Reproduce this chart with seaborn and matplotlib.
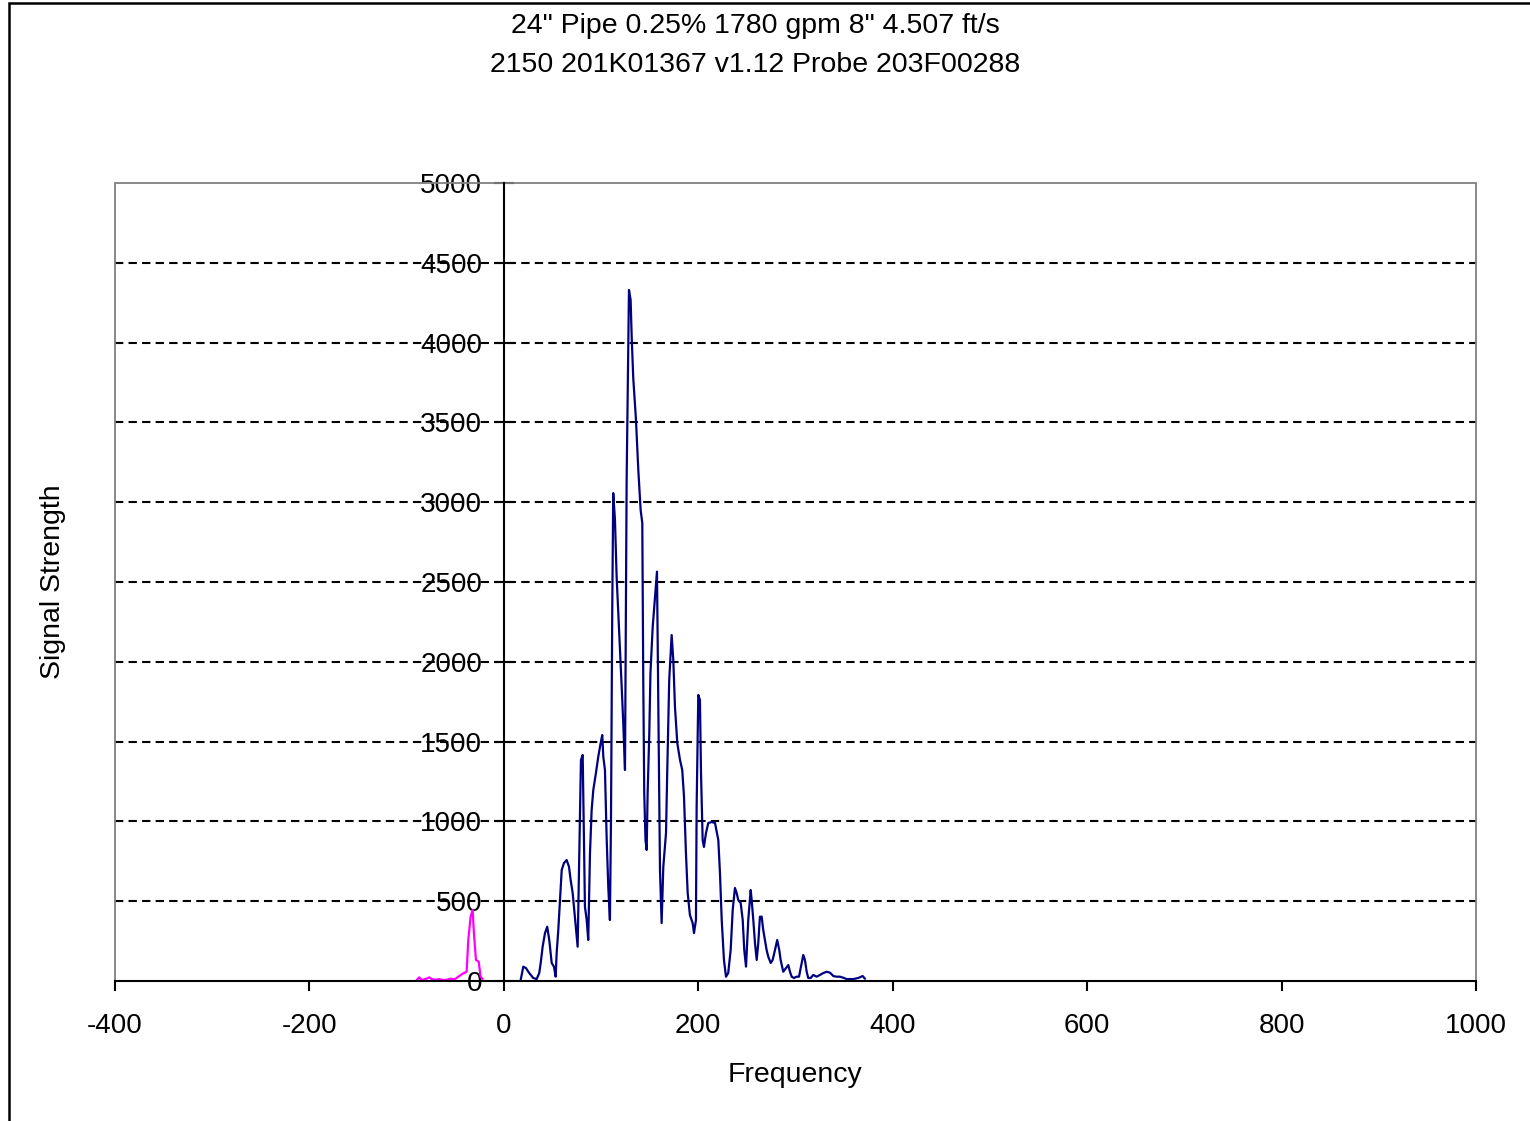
import numpy as np
import pandas as pd
import matplotlib
matplotlib.use("Agg")
import matplotlib.pyplot as plt
from matplotlib.patches import Rectangle
import seaborn as sns

# ---- data -------------------------------------------------------------
title_lines = ['24" Pipe 0.25% 1780 gpm 8" 4.507 ft/s',
               '2150 201K01367 v1.12 Probe 203F00288']
x_label = "Frequency"
y_label = "Signal Strength"

x_ticks = [-400, -200, 0, 200, 400, 600, 800, 1000]
y_ticks = [0, 500, 1000, 1500, 2000, 2500, 3000, 3500, 4000, 4500, 5000]

# forward (positive frequency) spectrum
fwd_freq = [17.3, 20.0, 22.7, 26.1, 30.2, 33.7, 36.4, 37.9, 39.9, 42.3, 44.6,
            46.7, 49.2, 51.5, 53.3, 54.3, 56.0, 57.7, 59.5, 61.8, 64.6, 67.0,
            68.7, 70.8, 72.4, 74.2, 75.9, 77.6, 79.3, 81.1, 82.1, 83.4, 85.2,
            86.8, 88.6, 90.3, 92.0, 94.7, 97.1, 99.6, 101.2, 102.3, 104.0,
            105.7, 107.4, 109.1, 110.2, 111.5, 112.5, 114.3, 116.0, 118.7,
            121.2, 122.8, 124.6, 126.3, 128.7, 130.4, 131.5, 133.1, 135.9,
            138.3, 140.7, 142.4, 143.4, 144.4, 145.7, 146.9, 147.9, 149.6,
            150.8, 153.1, 155.4, 157.5, 158.8, 160.6, 162.3, 164.0, 166.8,
            168.1, 170.1, 172.6, 174.3, 176.0, 178.4, 181.2, 183.5, 185.3,
            187.3, 189.1, 191.4, 194.2, 195.6, 197.6, 198.3, 200.0, 201.7,
            202.8, 204.5, 205.8, 207.9, 210.3, 213.8, 217.2, 220.6, 222.3,
            224.1, 226.4, 228.5, 230.8, 233.3, 235.4, 237.7, 239.5, 241.1,
            243.6, 245.7, 247.3, 249.1, 251.4, 253.9, 254.9, 256.6, 258.3,
            260.1, 261.7, 263.4, 265.2, 266.8, 268.6, 270.3, 272.0, 274.5,
            276.5, 278.9, 281.2, 283.3, 284.7, 287.4, 290.2, 292.6, 294.3,
            296.1, 298.4, 301.2, 303.6, 305.6, 308.0, 309.7, 311.5, 313.1,
            315.6, 318.3, 321.8, 325.2, 328.6, 332.1, 335.5, 338.9, 342.4,
            345.7, 349.9, 352.6, 359.4, 364.6, 369.1, 371.5]
fwd_signal = [6, 90, 81, 50, 19, 12, 50, 113, 215, 300, 340,
              257, 113, 90, 27, 175, 320, 508, 695, 739, 758, 716,
              633, 551, 445, 320, 215, 802, 1385, 1416, 1009, 466, 382,
              257, 802, 1071, 1197, 1303, 1405, 1491, 1541, 1405, 1322,
              904, 591, 382, 1009, 2325, 3057, 2888, 2533, 2180,
              1844, 1620, 1322, 3139, 4330, 4267, 4035, 3778, 3515,
              3202, 2951, 2870, 1886, 1178, 883, 821, 1178, 1553,
              1930, 2218, 2400, 2565, 1761, 695, 363, 714, 927,
              1322, 1886, 2168, 2011, 1719, 1491, 1385, 1322, 1155,
              802, 551, 413, 363, 300, 382, 1092, 1792, 1761,
              1303, 883, 840, 927, 990, 996, 990, 883, 677,
              382, 132, 27, 50, 194, 445, 583, 551, 508,
              489, 382, 194, 90, 382, 570, 508, 382, 238,
              132, 238, 403, 403, 320, 257, 194, 152, 113,
              132, 194, 257, 194, 132, 58, 81, 100, 58,
              27, 19, 27, 27, 90, 163, 132, 58, 19,
              19, 38, 27, 38, 50, 58, 52, 31, 27,
              27, 19, 12, 12, 19, 31, 14]

# reverse (negative frequency) spectrum
rev_freq = [-89.7, -87.0, -84.6, -82.2, -79.1, -76.7, -74.3, -70.9, -66.5,
            -62.3, -58.5, -55.4, -50.3, -45.9, -41.8, -38.3, -36.6, -34.2,
            -32.1, -30.8, -28.7, -25.9, -23.9, -21.8]
rev_signal = [6, 23, 6, 10, 15, 23, 12, 8, 12,
              6, 8, 14, 12, 31, 48, 58, 257, 403,
              445, 299, 132, 121, 27, 12]

df = pd.concat([
    pd.DataFrame({"freq": fwd_freq, "signal": fwd_signal, "dir": "forward"}),
    pd.DataFrame({"freq": rev_freq, "signal": rev_signal, "dir": "reverse"}),
], ignore_index=True)

# ---- style ------------------------------------------------------------
sns.set_style("white")
plt.rcParams["font.family"] = ["Liberation Sans", "DejaVu Sans"]
plt.rcParams["axes.unicode_minus"] = False
plt.rcParams["text.color"] = "black"
plt.rcParams["axes.labelcolor"] = "black"
plt.rcParams["xtick.color"] = "black"
plt.rcParams["ytick.color"] = "black"
FS_TICK = 20
FS_TEXT = 20.5

fig = plt.figure(figsize=(15.30, 11.21), dpi=100)
W, H = 1530, 1121
ax = fig.add_axes([115 / W, 1 - 981 / H, (1476 - 115) / W, (981 - 183) / H])

sns.lineplot(data=df, x="freq", y="signal", hue="dir", units="dir",
             estimator=None, sort=False, legend=False,
             palette={"forward": "#000080", "reverse": "#FF00FF"},
             linewidth=1.6, ax=ax)

# y axis crosses at x = 0, plot area framed in grey
for s in ("top", "right"):
    ax.spines[s].set_visible(False)
ax.spines["left"].set_position(("data", 0))
ax.spines["left"].set_color("black")
ax.spines["left"].set_linewidth(1.5)
ax.spines["left"].set_zorder(3)
ax.spines["bottom"].set_color("black")
ax.spines["bottom"].set_linewidth(1.5)
ax.add_patch(Rectangle((0, 0), 1, 1, transform=ax.transAxes, fill=False,
                       edgecolor="#808080", linewidth=1.3, zorder=1,
                       clip_on=False))

ax.set_xlim(-400, 1000)
ax.set_ylim(0, 5000)
ax.set_xticks(x_ticks)
ax.set_yticks(y_ticks)
ax.set_xticklabels([str(v) for v in x_ticks])
ax.set_yticklabels([str(v) for v in y_ticks])

ax.tick_params(axis="y", direction="inout", length=14, width=1.5,
               color="black", labelcolor="black", labelsize=FS_TICK,
               pad=8.5, left=True)
ax.tick_params(axis="x", direction="out", length=7, width=1.5,
               color="black", labelcolor="black", labelsize=FS_TICK,
               pad=16, bottom=True)

ax.yaxis.grid(True, color="black", linestyle=(0, (4, 2.5)), linewidth=1.5)
gl = ax.yaxis.get_gridlines()
gl[0].set_visible(False)
gl[-1].set_visible(False)
ax.set_axisbelow(True)

ax.set_xlabel(x_label, fontsize=FS_TEXT, color="black", va="center")
ax.set_ylabel(y_label, fontsize=FS_TEXT, color="black", va="center")
ax.xaxis.set_label_coords(0.5, (981 - 1075) / 798)
ax.yaxis.set_label_coords((53 - 115) / 1361, 0.5)

fig.text(755 / W, 1 - 26 / H, title_lines[0], ha="center", va="center",
         fontsize=FS_TEXT, color="black")
fig.text(755 / W, 1 - 65 / H, title_lines[1], ha="center", va="center",
         fontsize=FS_TEXT, color="black")

# outer chart frame
fig.patches.append(Rectangle((9 / W, -0.05), 1.1, 1.05 - 3 / H,
                             transform=fig.transFigure, fill=False,
                             edgecolor="black", linewidth=1.8))

fig.savefig("out.png", dpi=100)
